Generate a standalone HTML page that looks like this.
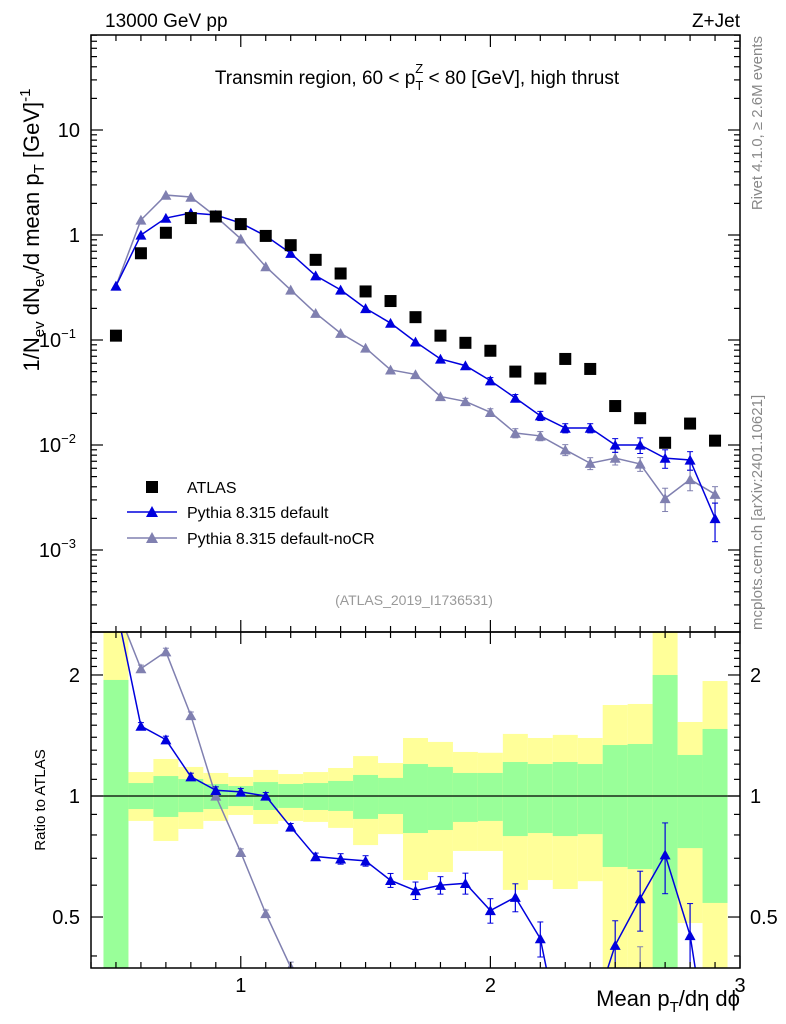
<!DOCTYPE html>
<html><head><meta charset="utf-8"><style>
html,body{margin:0;background:#fff;overflow:hidden;width:786px;height:1024px}
svg{display:block;font-family:"Liberation Sans","DejaVu Sans",sans-serif}
</style></head><body>
<svg id="c" width="786" height="1024" viewBox="0 0 786 1024" xmlns="http://www.w3.org/2000/svg">
<g id="bands"></g>
<g id="marks"></g>
<g id="axes"></g>
<text x="105" y="27" font-size="19">13000 GeV pp</text>
<text x="740" y="27" font-size="19" text-anchor="end">Z+Jet</text>
<text x="417" y="84" font-size="19" text-anchor="middle">Transmin region, 60 &lt; p<tspan font-size="13" dy="6">T</tspan><tspan font-size="13" dx="-8" dy="-17">Z</tspan><tspan dy="11"> &lt; 80 [GeV], high thrust</tspan></text>
<text transform="translate(39,230) rotate(-90)" font-size="22" text-anchor="middle">1/N<tspan font-size="15" dy="5">ev</tspan><tspan dy="-5"> dN</tspan><tspan font-size="15" dy="5">ev</tspan><tspan dy="-5">/d mean p</tspan><tspan font-size="15" dy="5">T</tspan><tspan dy="-5"> [GeV]</tspan><tspan font-size="15" dy="-9">-1</tspan></text>
<text transform="translate(45,800) rotate(-90)" font-size="15" text-anchor="middle">Ratio to ATLAS</text>
<text transform="translate(762,36) rotate(-90)" font-size="15" fill="#888" text-anchor="end">Rivet 4.1.0, ≥ 2.6M events</text>
<text transform="translate(762,630) rotate(-90)" font-size="15" fill="#888">mcplots.cern.ch [arXiv:2401.10621]</text>
<text x="414" y="605" font-size="14" fill="#999" text-anchor="middle">(ATLAS_2019_I1736531)</text>
<text x="740" y="1006" font-size="22" text-anchor="end">Mean p<tspan font-size="15" dy="6">T</tspan><tspan dy="-6">/dη dϕ</tspan></text>
<g>
<rect x="146" y="481" width="12" height="12" fill="#000"/>
<text x="187" y="493" font-size="16">ATLAS</text>
<line x1="127" y1="512" x2="177" y2="512" stroke="#0000dd" stroke-width="1.5"/>
<path d="M146,517 L158,517 L152,506 Z" fill="#0000dd"/>
<text x="187" y="518" font-size="16">Pythia 8.315 default</text>
<line x1="127" y1="538" x2="177" y2="538" stroke="#8080b0" stroke-width="1.5"/>
<path d="M146,543 L158,543 L152,532 Z" fill="#8080b0"/>
<text x="187" y="544" font-size="16">Pythia 8.315 default-noCR</text>
</g>
</svg>
<script>
const xCenters=[0.5,0.6,0.7,0.8,0.9,1.0,1.1,1.2,1.3,1.4,1.5,1.6,1.7,1.8,1.9,2.0,2.1,2.2,2.3,2.4,2.5,2.6,2.7,2.8,2.9];
const atlasVals=[0.11,0.67,1.05,1.45,1.5,1.27,0.98,0.8,0.58,0.43,0.29,0.235,0.165,0.11,0.094,0.079,0.05,0.043,0.066,0.053,0.0235,0.018,0.0105,0.016,0.011];
const pyDefault=[0.327,1.0,1.45,1.62,1.55,1.3,0.98,0.67,0.41,0.30,0.2,0.145,0.096,0.066,0.057,0.041,0.028,0.019,0.0145,0.0145,0.01,0.01,0.0075,0.0072,0.002];
const pyDefaultErr=[0.02,0.02,0.02,0.02,0.02,0.02,0.02,0.02,0.02,0.03,0.03,0.04,0.05,0.05,0.06,0.07,0.08,0.10,0.10,0.10,0.15,0.17,0.20,0.20,0.40];
const pyNoCR=[0.327,1.39,2.4,2.3,1.5,0.92,0.5,0.3,0.18,0.116,0.084,0.052,0.047,0.029,0.026,0.0205,0.013,0.0122,0.009,0.0067,0.0075,0.0066,0.0031,0.0047,0.0034];
const pyNoCRErr=[0.02,0.02,0.02,0.02,0.02,0.02,0.02,0.03,0.03,0.03,0.04,0.05,0.06,0.06,0.07,0.08,0.10,0.10,0.12,0.13,0.14,0.15,0.25,0.22,0.18];
const statUp=[1.944,1.077,1.121,1.102,1.071,1.059,1.083,1.071,1.077,1.090,1.128,1.109,1.201,1.181,1.141,1.141,1.215,1.201,1.215,1.201,1.339,1.347,2.0,1.265,1.468];
const statDn=[0.3,0.928,0.887,0.912,0.928,0.944,0.923,0.934,0.923,0.918,0.877,0.902,0.809,0.823,0.862,0.867,0.795,0.809,0.795,0.804,0.666,0.658,0.3,0.742,0.542];
const totUp=[3.0,1.147,1.236,1.181,1.141,1.115,1.161,1.134,1.147,1.174,1.257,1.208,1.394,1.363,1.287,1.281,1.427,1.394,1.419,1.394,1.684,1.694,3.0,1.528,1.932];
const totDn=[0.3,0.867,0.773,0.828,0.867,0.897,0.852,0.867,0.862,0.833,0.755,0.804,0.618,0.647,0.730,0.730,0.584,0.618,0.587,0.614,0.3,0.3,0.3,0.483,0.3];
const xTicks=[1,2,3];
const ratioTicks=[0.5,1,2];
const mainTicks=[0.001,0.01,0.1,1,10];

const NS="http://www.w3.org/2000/svg";
const L=91,R=740,T=35,MB=632,B=968,BW=0.1;
const X=v=>L+(v-0.4)/(3-0.4)*(R-L);
const Y=v=>235-105*Math.log10(v);
const RY=v=>796-402*Math.log10(v);
const clampR=y=>Math.max(MB,Math.min(B,y));
function mk(tag,parent,attrs){const e=document.createElementNS(NS,tag);for(const k in attrs)e.setAttribute(k,attrs[k]);parent.appendChild(e);return e;}
const bands=document.getElementById('bands'),marks=document.getElementById('marks'),axes=document.getElementById('axes');

xCenters.forEach((c,i)=>{
  const x0=X(c-BW/2),x1=X(c+BW/2);
  let y1=clampR(RY(totUp[i])),y2=clampR(RY(totDn[i]));
  let r=mk('rect',bands,{x:x0,y:y1,width:x1-x0,height:y2-y1,fill:'#ffff99'});
  
  
  y1=clampR(RY(statUp[i]));y2=clampR(RY(statDn[i]));
  r=mk('rect',bands,{x:x0,y:y1,width:x1-x0,height:y2-y1,fill:'#99ff99'});
  
  
});
let one=mk('line',bands,{x1:L,x2:R,y1:RY(1),y2:RY(1),stroke:'#000','stroke-width':1.2});



function tri(g,x,y,col,s){return mk('path',g,{d:`M${x-s},${y+s*0.85} L${x+s},${y+s*0.85} L${x},${y-s*0.95} Z`,fill:col});}

function series(vals,errs,col,name){
  const gm=mk('g',marks,{'clip-path':'url(#clipMain)'});
  
  
  mk('polyline',gm,{points:xCenters.map((c,i)=>X(c)+','+Y(vals[i])).join(' '),fill:'none',stroke:col,'stroke-width':1.5});
  xCenters.forEach((c,i)=>{
    const x=X(c),y=Y(vals[i]);
    const yt=Y(vals[i]*(1+errs[i])),yb=Y(vals[i]*Math.max(0.05,1-errs[i]));
    if(yb-yt>6){mk('line',gm,{x1:x,x2:x,y1:yt,y2:yb,stroke:col,'stroke-width':1.2});mk('line',gm,{x1:x-3,x2:x+3,y1:yt,y2:yt,stroke:col});mk('line',gm,{x1:x-3,x2:x+3,y1:yb,y2:yb,stroke:col});}
    const p=tri(gm,x,y,col,5.5);
    
    
  });
  const gr=mk('g',marks,{'clip-path':'url(#clipRatio)'});
  
  
  const rv=vals.map((v,i)=>v/atlasVals[i]);
  mk('polyline',gr,{points:xCenters.map((c,i)=>X(c)+','+RY(rv[i])).join(' '),fill:'none',stroke:col,'stroke-width':1.5});
  xCenters.forEach((c,i)=>{
    const x=X(c),y=RY(rv[i]);
    const yt=RY(rv[i]*(1+errs[i])),yb=RY(rv[i]*Math.max(0.05,1-errs[i]));
    if(yb-yt>6){mk('line',gr,{x1:x,x2:x,y1:yt,y2:yb,stroke:col,'stroke-width':1.2});mk('line',gr,{x1:x-3,x2:x+3,y1:yt,y2:yt,stroke:col});mk('line',gr,{x1:x-3,x2:x+3,y1:yb,y2:yb,stroke:col});}
    const p=tri(gr,x,y,col,5.5);
    
    
  });
}
const defs=mk('defs',document.getElementById('c'),{});
const cm=mk('clipPath',defs,{id:'clipMain'});mk('rect',cm,{x:L,y:T,width:R-L,height:MB-T});
const cr=mk('clipPath',defs,{id:'clipRatio'});mk('rect',cr,{x:L,y:MB,width:R-L,height:B-MB});
series(pyNoCR,pyNoCRErr,'#8080b0','pythia-nocr');
series(pyDefault,pyDefaultErr,'#0000dd','pythia-default');
xCenters.forEach((c,i)=>{
  const r=mk('rect',marks,{x:X(c)-6,y:Y(atlasVals[i])-6,width:12,height:12,fill:'#000'});
  
  
});

[[T,MB],[MB,B]].forEach(([a,b],k)=>{
  const f=mk('rect',axes,{x:L,y:a,width:R-L,height:b-a,fill:'none',stroke:'#000','stroke-width':1.5});
  
  
});
for(let v=0.4;v<=3.001;v+=0.1){
  const x=X(v),maj=Math.abs(v-Math.round(v))<1e-6,len=maj?12:6;
  [[T,1],[MB,-1],[MB,1],[B,-1]].forEach(([y,d])=>mk('line',axes,{x1:x,x2:x,y1:y,y2:y+d*len,stroke:'#000','stroke-width':1.2}));
}
xTicks.forEach(v=>{const t=mk('text',axes,{x:X(v),y:992,'font-size':20,'text-anchor':'middle'});t.textContent=v;
  
  });
for(let e=-4;e<=1;e++){for(let m=1;m<10;m++){const v=m*Math.pow(10,e),y=Y(v);if(y<T||y>MB)continue;const len=m==1?12:6;
  mk('line',axes,{x1:L,x2:L+len,y1:y,y2:y,stroke:'#000','stroke-width':1.2});mk('line',axes,{x1:R,x2:R-len,y1:y,y2:y,stroke:'#000','stroke-width':1.2});}}
const lbl=['10<tspan font-size="13" dy="-9">−3</tspan>','10<tspan font-size="13" dy="-9">−2</tspan>','10<tspan font-size="13" dy="-9">−1</tspan>','1','10'];
mainTicks.forEach((v,i)=>{const t=mk('text',axes,{x:v>=1?80:76,y:Y(v)+7,'font-size':20,'text-anchor':'end'});t.innerHTML=lbl[i];
  
  });
for(let v=0.4;v<=2.5;v+=0.1){const y=RY(v);if(y<MB||y>B)continue;const maj=[0.5,1,2].some(q=>Math.abs(q-v)<1e-6),len=maj?12:6;
  mk('line',axes,{x1:L,x2:L+len,y1:y,y2:y,stroke:'#000','stroke-width':1.2});mk('line',axes,{x1:R,x2:R-len,y1:y,y2:y,stroke:'#000','stroke-width':1.2});}
ratioTicks.forEach(v=>{[[80,'end'],[750,'start']].forEach(([x,a])=>{const t=mk('text',axes,{x:x,y:RY(v)+7,'font-size':20,'text-anchor':a});t.textContent=v;
  
  });});
</script>
</body></html>
